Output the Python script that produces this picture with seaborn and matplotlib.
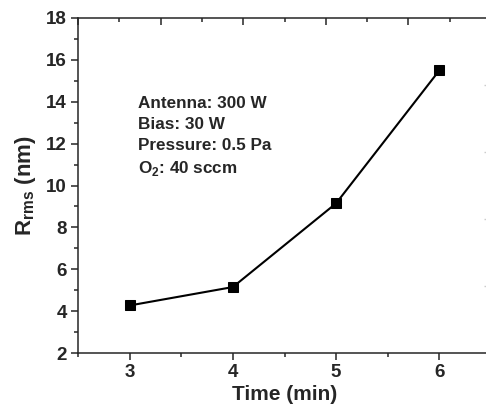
import matplotlib
matplotlib.use("Agg")
import matplotlib.pyplot as plt
import seaborn as sns
import pandas as pd
from matplotlib.ticker import MultipleLocator

time_min = [3, 4, 5, 6]
rrms_nm = [4.27, 5.15, 9.15, 15.5]
x_ticks = [3, 4, 5, 6]
y_ticks = [2, 4, 6, 8, 10, 12, 14, 16, 18]
annotation_lines = ["Antenna: 300 W", "Bias: 30 W", "Pressure: 0.5 Pa", r"O$_\mathbf{2}$: 40 sccm"]

sns.set_style("ticks")
plt.rcParams['font.family'] = ['Liberation Sans', 'DejaVu Sans']
plt.rcParams['mathtext.fontset'] = 'custom'
plt.rcParams['mathtext.bf'] = 'Liberation Sans:bold'
plt.rcParams['mathtext.rm'] = 'Liberation Sans:bold'

fig = plt.figure(figsize=(4.86, 4.05), dpi=100)
ax = fig.add_axes([78/486, 1-353/405, 413/486, 335/405])

df = pd.DataFrame({"time": time_min, "rrms": rrms_nm})
sns.lineplot(data=df, x="time", y="rrms", ax=ax, color="black", linewidth=1.5,
             marker="s", markersize=7.5, markeredgecolor="black", markerfacecolor="black")

ax.set_xlim(2.5, 6.5)
ax.set_ylim(2, 18)
ax.set_xticks(x_ticks)
ax.set_yticks(y_ticks)
ax.xaxis.set_minor_locator(MultipleLocator(0.5))
ax.yaxis.set_minor_locator(MultipleLocator(1))
ax.tick_params(axis="both", which="major", direction="out", length=5, width=1.1,
               labelsize=13.5, pad=3)
ax.tick_params(axis="both", which="minor", direction="out", length=3, width=1.1)
for lab in ax.get_xticklabels() + ax.get_yticklabels():
    lab.set_fontweight("bold")
for s in ax.spines.values():
    s.set_linewidth(1.1)
    s.set_visible(True)
ax.spines["right"].set_color("#dddddd")

ax.set_xlabel("Time (min)", fontsize=15, fontweight="bold", labelpad=3)
ax.set_ylabel(r"R$_\mathregular{rms}$ (nm)", fontsize=16, fontweight="bold", labelpad=6)

# top axis ticks (misaligned secondary scale)
axt = ax.twiny()
axt.set_xlim(0, 10)
axt.xaxis.set_major_locator(MultipleLocator(2))
axt.xaxis.set_minor_locator(MultipleLocator(1))
axt.tick_params(axis="x", which="major", direction="in", length=5, width=1.1, labeltop=False)
axt.tick_params(axis="x", which="minor", direction="in", length=3, width=1.1)
for s in axt.spines.values():
    s.set_visible(False)

# faint right axis ticks
axr = ax.twinx()
axr.set_ylim(0, 5)
axr.set_yticks([1, 2, 3, 4])
axr.tick_params(axis="y", direction="in", length=5, width=1.0, color="#cccccc", labelright=False)
for s in axr.spines.values():
    s.set_visible(False)

line_y_px = [102, 123, 144, 165.5]
for txt, ypx in zip(annotation_lines, line_y_px):
    fig.text(138/486, 1 - ypx/405, txt, fontsize=12.3, fontweight="bold",
             va="center_baseline", ha="left")

fig.savefig("out.png", dpi=100)
